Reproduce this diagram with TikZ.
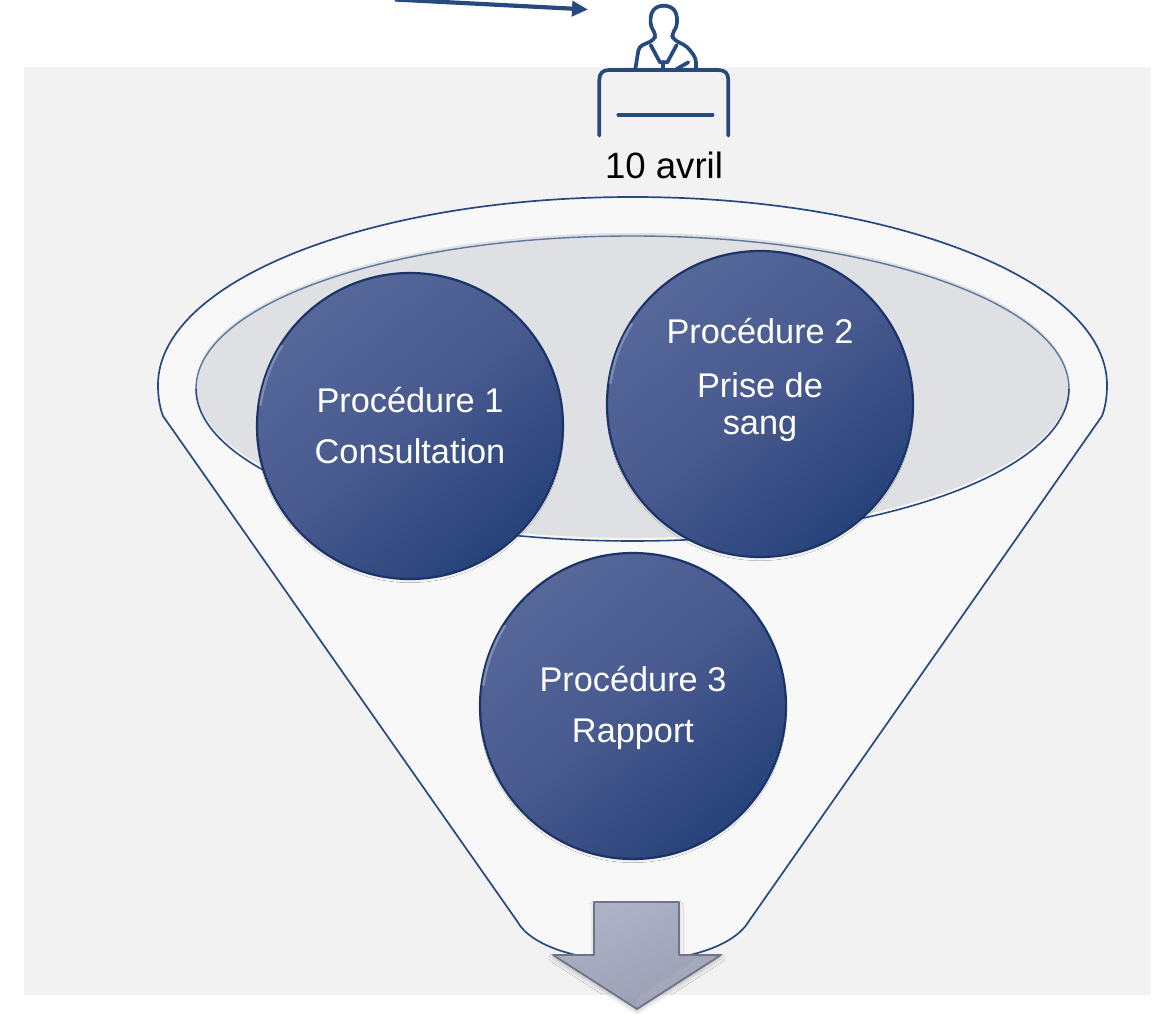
\documentclass[tikz,border=0pt]{standalone}
\usepackage{fontspec}
\setmainfont{Liberation Sans}
\usetikzlibrary{arrows.meta,shadows.blur}
\definecolor{navy}{HTML}{264A80}
\definecolor{bgrey}{HTML}{F2F2F2}
\definecolor{funnelfill}{HTML}{F8F8F8}
\definecolor{innerfill}{HTML}{DEE0E4}
\definecolor{ballA}{HTML}{56689A}
\definecolor{ballM}{HTML}{47598E}
\definecolor{ballB}{HTML}{27427A}
\definecolor{ballEdge}{HTML}{1B3468}
\definecolor{arrowA}{HTML}{AEB3C8}
\definecolor{arrowB}{HTML}{9A9EB1}
\definecolor{arrowEdge}{HTML}{707486}
\tikzset{
  iconline/.style={draw=navy,line width=3.7pt,line cap=round,line join=round},
  ball/.style={circle,minimum size=306pt,inner sep=0pt,draw=ballEdge,line width=2.2pt,
    top color=ballA,bottom color=ballB,middle color=ballM,shading angle=40,
    blur shadow={shadow blur steps=8,shadow xshift=0pt,shadow yshift=-3pt,shadow blur radius=3pt,shadow opacity=16,shadow scale=0.985},
    text=white,font=\fontsize{34.3}{37}\selectfont,align=center},
  balltext/.style={text=white,font=\fontsize{34.3}{37}\selectfont,align=center,inner sep=0pt},
  gleam/.style={line width=2.6pt,line cap=round,draw=ballA!65!white,opacity=.7},
}
\begin{document}
\begin{tikzpicture}[x=1pt,y=-1pt]
\useasboundingbox (0,0) rectangle (1157,1014);
\clip (0,0) rectangle (1157,1014);
% background panel
\fill[bgrey] (24,67) rectangle (1151,995);
% arrow toward the desk
\coordinate (arrowstart) at (395,-0.5);
\coordinate (arrowend) at (588,9.5);
\draw[navy,line width=4.2pt,-{Triangle[length=16pt,width=15pt]}] (arrowstart) -- (arrowend);
% desk icon
\begin{scope}[shift={(400,0)},x=0.3333pt,y=-0.3333pt]
  \draw[iconline] (598,407) -- (598,240) .. controls (598,220) and (608,210) .. (628,210) -- (955,210) .. controls (975,210) and (985,220) .. (985,240) -- (985,407);
  \draw[iconline] (655,344) -- (938,344);
  \draw[iconline,rounded corners=4pt] (791,17) -- (815,20) -- (831,42) -- (831,80) -- (815,103) -- (820,118) -- (862,140) -- (888,175) -- (888,207);
  \draw[iconline,rounded corners=4pt] (791,17) -- (768,20) -- (752,42) -- (752,80) -- (768,103) -- (762,120) -- (717,140) -- (706,207);
  \draw[iconline] (752,135) -- (780,187) -- (802,187) -- (830,135);
  \draw[iconline] (790,187) -- (790,207);
  \draw[iconline] (830,207) -- (865,187);
\end{scope}
\node[font=\fontsize{36.6}{40}\selectfont,text=black,inner sep=0pt] (date) at (664,165) {10 avril};
% funnel
\path[fill=funnelfill,draw=navy,line width=1.7pt,line join=round]
  (158,385) .. controls (158,281) and (370.5,197) .. (632.5,197)
  .. controls (895,197) and (1107,281) .. (1107,385)
  .. controls (1107,398) and (1105,408) .. (1102,416)
  -- (749,921)
  .. controls (735,945) and (690,961) .. (633,961)
  .. controls (576,961) and (530,945) .. (517,921)
  -- (163,416)
  .. controls (160,408) and (158,398) .. (158,385) -- cycle;
% inner ellipse
\fill[innerfill] (632.5,385.5) ellipse [x radius=436.5,y radius=152.5];
\draw[navy!70!innerfill,line width=1.4pt] (196,388.5) .. controls (196,304) and (391,236) .. (632.5,236) .. controls (874,236) and (1069,304) .. (1069,388.5);
\draw[navy,line width=1.6pt] (196,388.5) .. controls (196,473) and (391,541) .. (632.5,541) .. controls (874,541) and (1069,473) .. (1069,388.5);
% procedure circles
\node[ball] (p1) at (410,426) {Procédure 1\\[14pt]Consultation};
\node[ball] (p2) at (760,404) {};
\node[balltext] (p2text) at (760,380) {Procédure 2\\[17pt]Prise de\\sang};
\node[ball] (p3) at (633,706) {};
\node[balltext] (p3text) at (633,708) {Procédure 3\\[14pt]Rapport};
\draw[gleam] (p1.center) ++(188:151) arc[start angle=188,end angle=212,radius=151];
\draw[gleam] (p2.center) ++(188:151) arc[start angle=188,end angle=212,radius=151];
\draw[gleam] (p3.center) ++(188:151) arc[start angle=188,end angle=212,radius=151];
% output arrow
\path[draw=arrowEdge,line width=1.8pt,line join=round,
  top color=arrowA,bottom color=arrowB,shading angle=25,
  blur shadow={shadow blur steps=8,shadow xshift=0pt,shadow yshift=-3pt,shadow blur radius=4pt,shadow opacity=22}]
  (594,902) -- (679,902) -- (679,955) -- (721,955) -- (637,1009) -- (553,955) -- (594,955) -- cycle;
\fill[white,opacity=.07] (637,1007) -- (716,957) -- (698,958) -- (637,998) -- cycle;
\end{tikzpicture}
\end{document}
